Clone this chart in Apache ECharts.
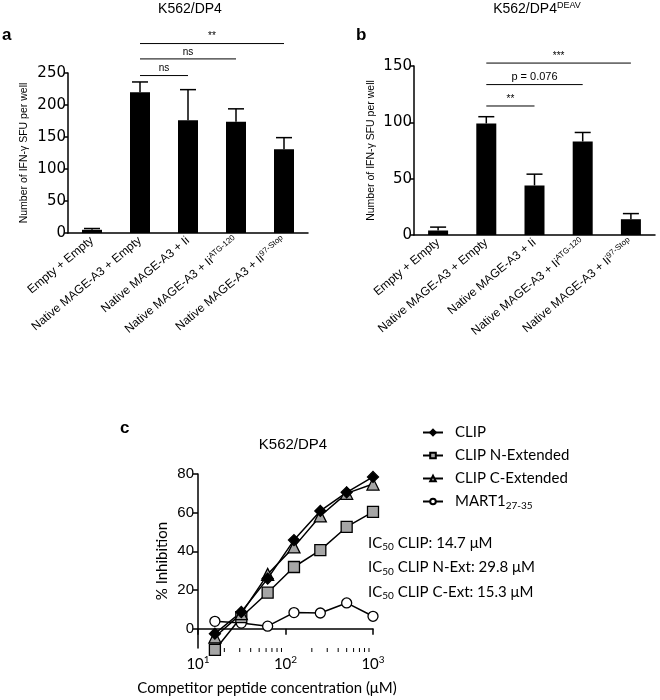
<!DOCTYPE html>
<html>
<head>
<meta charset="utf-8">
<script src="https://cdn.jsdelivr.net/npm/echarts@6/dist/echarts.min.js"></script>
<style>
  html, body { margin: 0; padding: 0; background: #fff; }
  #main { width: 660px; height: 700px; }
</style>
</head>
<body>
<div id="main"></div>
<script>
// panel a / b: bars with error bars
const categories = ['Empty + Empty', 'Native MAGE-A3 + Empty', 'Native MAGE-A3 + Ii', 'Native MAGE-A3 + Ii', 'Native MAGE-A3 + Ii'];
const catSup = ['', '', '', 'ATG-120', '97-Stop'];
const meanA = [5, 220, 176, 174, 131];
const semA = [2, 16, 48, 20, 18];
const meanB = [4, 99, 44, 83, 14];
const semB = [3, 6, 10, 8, 5];
const yTicksA = [0, 50, 100, 150, 200, 250];
const yTicksB = [0, 50, 100, 150];
// [from, to, height, label]
const sigA = [[1, 2, 246, 'ns'], [1, 3, 272, 'ns'], [1, 4, 296, '**']];
const sigB = [[1, 2, 114.5, '**'], [1, 3, 133.5, 'p = 0.076'], [1, 4, 152.6, '***']];

// panel c: competition curves
const conc = [15.6, 31.25, 62.5, 125, 250, 500, 1000];
const clip = [-2.6, 8.6, 25.9, 45.8, 60.9, 70.5, 78.5];
const clipN = [-11, 6, 18.6, 31.9, 40.6, 52.6, 60.4];
const clipC = [-4.3, 7.8, 28.1, 42.3, 58.3, 70, 74.8];
const mart1 = [3.8, 2.9, 1.3, 8.3, 8.1, 13.3, 6.4];
const yTicksC = [0, 20, 40, 60, 80];
const minorC = [20, 30, 40, 50, 60, 70, 80, 90, 200, 300, 400, 500, 600, 700, 800, 900];
const ic50 = ['IC{sub|50} CLIP: 14.7 μM', 'IC{sub|50} CLIP N-Ext: 29.8 μM', 'IC{sub|50} CLIP C-Ext: 15.3 μM'];

const arial = 'Liberation Sans, Arial, sans-serif';
const calibri = 'Lato, Open Sans, sans-serif';

let myChart = echarts.init(document.getElementById('main'));

const barXAxis = function (gridIndex) {
    return {
        type: 'category',
        gridIndex: gridIndex,
        data: categories,
        axisLine: { lineStyle: { color: '#000', width: 1.5 } },
        axisTick: { alignWithLabel: true, length: 4, lineStyle: { color: '#000', width: 1.5 } },
        axisLabel: {
            rotate: 40,
            margin: 6,
            interval: 0,
            color: '#000',
            fontFamily: arial,
            fontSize: 12,
            formatter: function (v, i) {
                return catSup[i] ? v + '{sup|' + catSup[i] + '}' : v;
            },
            rich: {
                sup: { fontSize: 8, fontFamily: arial, color: '#000', verticalAlign: 'top', padding: [0, 0, 6, 0] }
            }
        }
    };
};

const barYAxis = function (gridIndex, max, ticks, gap) {
    return {
        type: 'value',
        gridIndex: gridIndex,
        min: 0,
        max: max,
        name: 'Number of IFN-γ SFU per well',
        nameLocation: 'middle',
        nameGap: gap,
        nameTextStyle: { fontFamily: arial, fontSize: 10.5, color: '#000' },
        splitLine: { show: false },
        axisLine: { show: true, lineStyle: { color: '#000', width: 1.5 } },
        axisTick: { show: true, length: 4, customValues: ticks, lineStyle: { color: '#000', width: 1.5 } },
        axisLabel: { customValues: ticks, margin: 2, color: '#000', fontFamily: 'DejaVu Sans, sans-serif', fontSize: 15 }
    };
};

const errorSeries = function (axisIndex, mean, sem) {
    return {
        type: 'custom',
        xAxisIndex: axisIndex,
        yAxisIndex: axisIndex,
        z: 3,
        data: mean.map((m, i) => [i, m, m + sem[i]]),
        renderItem: function (params, api) {
            const base = api.coord([api.value(0), api.value(1)]);
            const top = api.coord([api.value(0), api.value(2)]);
            const st = { stroke: '#000', lineWidth: 1.5 };
            return {
                type: 'group',
                children: [
                    { type: 'line', shape: { x1: base[0], y1: base[1], x2: top[0], y2: top[1] }, style: st },
                    { type: 'line', shape: { x1: top[0] - 8, y1: top[1], x2: top[0] + 8, y2: top[1] }, style: st }
                ]
            };
        }
    };
};

const sigSeries = function (axisIndex, sig) {
    return {
        type: 'custom',
        xAxisIndex: axisIndex,
        yAxisIndex: axisIndex,
        data: sig.map(s => [s[0], s[1], s[2]]),
        renderItem: function (params, api) {
            const a = api.coord([api.value(0), api.value(2)]);
            const b = api.coord([api.value(1), api.value(2)]);
            const label = sig[params.dataIndex][3];
            return {
                type: 'group',
                children: [
                    { type: 'line', shape: { x1: a[0], y1: a[1], x2: b[0], y2: b[1] }, style: { stroke: '#000', lineWidth: 1 } },
                    {
                        type: 'text',
                        style: {
                            text: label, x: (a[0] + b[0]) / 2, y: a[1] - 2,
                            align: 'center', verticalAlign: 'bottom',
                            fontFamily: arial, fontSize: label.length > 3 ? 11 : 10, fill: '#000'
                        }
                    }
                ]
            };
        }
    };
};

const lineSeries = function (name, values, symbol, size, fill) {
    return {
        name: name,
        type: 'line',
        xAxisIndex: 2,
        yAxisIndex: 2,
        clip: false,
        data: conc.map((c, i) => [c, values[i]]),
        symbol: symbol,
        symbolSize: size,
        lineStyle: { color: '#000', width: 1.5 },
        itemStyle: { color: fill, borderColor: '#000', borderWidth: 1.3 },
        emphasis: { disabled: true }
    };
};

const option = {
    animation: false,
    grid: [
        { left: 68, top: 73, width: 240, height: 160 },
        { left: 414, top: 66, width: 241, height: 169 },
        { left: 198, top: 474, width: 175, height: 174 }
    ],
    xAxis: [
        barXAxis(0),
        barXAxis(1),
        {
            type: 'log',
            gridIndex: 2,
            logBase: 10,
            min: 10,
            max: 1000,
            splitLine: { show: false },
            axisLine: { lineStyle: { color: '#000', width: 1.5 } },
            axisTick: { length: 6, lineStyle: { color: '#000', width: 1.5 } },
            axisLabel: {
                color: '#000',
                margin: 7,
                fontFamily: calibri,
                fontSize: 15,
                formatter: function (v) {
                    return '10{sup|' + Math.round(Math.log10(v)) + '}';
                },
                rich: {
                    sup: { fontSize: 10, fontFamily: calibri, color: '#000', verticalAlign: 'top', padding: [0, 0, 8, 0] }
                }
            }
        }
    ],
    yAxis: [
        barYAxis(0, 250, yTicksA, 38),
        barYAxis(1, 150, yTicksB, 37),
        {
            type: 'value',
            gridIndex: 2,
            min: -10,
            max: 80,
            name: '% Inhibition',
            nameLocation: 'middle',
            nameGap: 28,
            nameTextStyle: { fontFamily: calibri, fontSize: 15, color: '#000' },
            splitLine: { show: false },
            axisLine: { show: true, lineStyle: { color: '#000', width: 1.5 } },
            axisTick: { show: true, length: 5, customValues: yTicksC, lineStyle: { color: '#000', width: 1.5 } },
            axisLabel: { customValues: yTicksC, margin: 4, color: '#000', fontFamily: arial, fontSize: 15 }
        }
    ],
    legend: {
        orient: 'vertical',
        left: 417,
        top: 420,
        itemWidth: 20,
        itemHeight: 7,
        itemGap: 8,
        data: ['CLIP', 'CLIP N-Extended', 'CLIP C-Extended', 'MART1'],
        formatter: function (n) {
            return n === 'MART1' ? 'MART1{sub|27-35}' : n;
        },
        textStyle: {
            fontFamily: calibri,
            fontSize: 15,
            color: '#000',
            padding: [0, 0, 0, 7],
            rich: {
                sub: { fontSize: 10, fontFamily: calibri, color: '#000', verticalAlign: 'bottom', padding: [8, 0, 0, 0] }
            }
        }
    },
    series: [
        {
            type: 'bar',
            xAxisIndex: 0,
            yAxisIndex: 0,
            data: meanA,
            barWidth: 20,
            itemStyle: { color: '#000' }
        },
        errorSeries(0, meanA, semA),
        sigSeries(0, sigA),
        {
            type: 'bar',
            xAxisIndex: 1,
            yAxisIndex: 1,
            data: meanB,
            barWidth: 20,
            itemStyle: { color: '#000' }
        },
        errorSeries(1, meanB, semB),
        sigSeries(1, sigB),
        {
            // minor ticks of the log axis
            type: 'custom',
            xAxisIndex: 2,
            yAxisIndex: 2,
            data: minorC.map(v => [v, -10]),
            renderItem: function (params, api) {
                const p = api.coord([api.value(0), api.value(1)]);
                return { type: 'line', shape: { x1: p[0], y1: p[1], x2: p[0], y2: p[1] + 4 }, style: { stroke: '#000', lineWidth: 1 } };
            }
        },
        lineSeries('MART1', mart1, 'circle', 10, '#fff'),
        lineSeries('CLIP N-Extended', clipN, 'rect', 11, '#a6a6a6'),
        lineSeries('CLIP C-Extended', clipC, 'triangle', 12, '#a6a6a6'),
        lineSeries('CLIP', clip, 'diamond', 11, '#000')
    ],
    graphic: [
        { type: 'text', left: 2, top: 27, style: { text: 'a', fontFamily: arial, fontWeight: 'bold', fontSize: 17, fill: '#000' } },
        { type: 'text', left: 356, top: 27, style: { text: 'b', fontFamily: arial, fontWeight: 'bold', fontSize: 17, fill: '#000' } },
        { type: 'text', left: 120, top: 420, style: { text: 'c', fontFamily: arial, fontWeight: 'bold', fontSize: 17, fill: '#000' } },
        { type: 'text', x: 190, y: 9, style: { text: 'K562/DP4', align: 'center', verticalAlign: 'middle', fontFamily: arial, fontSize: 14, fill: '#000' } },
        {
            type: 'text', x: 537, y: 9,
            style: {
                text: 'K562/DP4{sup|DEAV}', align: 'center', verticalAlign: 'middle', fontFamily: arial, fontSize: 14, fill: '#000',
                rich: { sup: { fontSize: 9, fontFamily: arial, fill: '#000', verticalAlign: 'top', padding: [0, 0, 6, 0] } }
            }
        },
        { type: 'text', x: 293, y: 445, style: { text: 'K562/DP4', align: 'center', verticalAlign: 'middle', fontFamily: arial, fontSize: 15, fill: '#000' } },
        { type: 'text', x: 267, y: 688, style: { text: 'Competitor peptide concentration (μM)', align: 'center', verticalAlign: 'middle', fontFamily: calibri, fontSize: 15, fill: '#000' } }
    ].concat(ic50.map((t, i) => ({
        type: 'text',
        x: 368,
        y: 543 + i * 24.5,
        style: {
            text: t, align: 'left', verticalAlign: 'middle', fontFamily: calibri, fontSize: 15, fill: '#000',
            rich: { sub: { fontSize: 10, fontFamily: calibri, fill: '#000', verticalAlign: 'bottom', padding: [8, 0, 0, 0] } }
        }
    })))
};

myChart.setOption(option);
window.addEventListener('resize', () => {
    myChart.resize()
})
</script>
</body>
</html>
